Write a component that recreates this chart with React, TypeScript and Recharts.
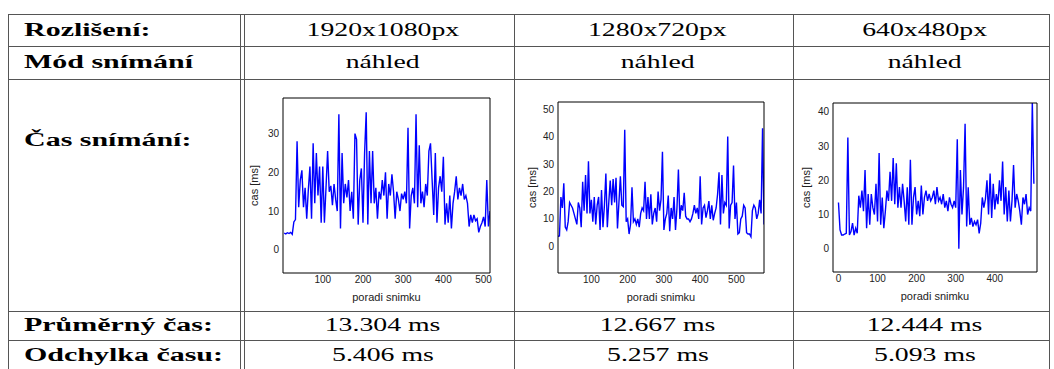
import { LineChart, Line, XAxis, YAxis } from 'recharts';

// sampled every STEP frames, values in ms
const STEP = 4;

const resolutions = ['1920x1080px', '1280x720px', '640x480px'];
const modes = ['náhled', 'náhled', 'náhled'];
const meanTimes = ['13.304 ms', '12.667 ms', '12.444 ms'];
const deviations = ['5.406 ms', '5.257 ms', '5.093 ms'];

const hdFrameStart = 4;
const hdTimes = [
  4.3, 4.1, 4.4, 4.2, 4.5, 4.0, 7.2, 7.8,
  28, 11, 18, 20.5, 11, 16, 8, 15.5,
  21.5, 8, 27.5, 12, 25, 14, 21.5, 7,
  21.5, 7, 16, 25.5, 15, 16.5, 11.5, 17,
  13, 10, 35, 5.5, 25, 12, 17, 13.5,
  18, 10, 15, 8, 30, 28.5, 6.5, 18,
  21, 7, 25, 35.5, 6.5, 25.5, 12, 25.5,
  12, 16, 8, 15, 13, 18, 14, 20,
  8, 17, 14, 19.5, 15, 8, 15, 13,
  10, 14.5, 13, 15, 12, 31.5, 5.5, 14,
  16, 12, 35, 11, 27, 12, 15, 11,
  17, 14, 25.5, 27.5, 18, 9, 25, 7,
  16, 19, 15, 24, 6.5, 12, 7, 14,
  5.5, 12, 15, 19, 13, 16, 14, 17,
  13, 14, 12, 6, 9, 7, 9, 7.5,
  8, 4.5, 6, 7, 8.5, 6, 18, 6,
  10,
];

const mdFrameStart = 8;
const mdTimes = [
  3.7, 3.8, 18, 14, 23, 7, 6, 9,
  16, 15, 14, 12, 10, 8, 16, 14,
  7, 23.5, 13, 26, 12, 31, 12, 17,
  9, 18, 8, 15, 18, 6, 20.5, 7,
  15, 26.5, 7, 16, 24, 15, 24.5, 16,
  25, 6.5, 16, 25.5, 15, 14.5, 42.5, 9,
  10, 4.5, 8, 21.5, 9, 10, 8, 10,
  7, 12, 14, 13, 23.5, 10, 18, 10,
  19, 8, 12, 14, 9, 20, 13, 17,
  34.5, 6, 10, 12, 18.5, 5.5, 14, 10,
  18, 6, 14, 28, 10, 15, 13, 19.5,
  11, 10, 10, 9, 10, 12, 15, 12,
  14, 10, 25.5, 8, 14, 15, 10.5, 13,
  16.5, 10, 15, 9.5, 12, 14, 19, 27,
  8, 26, 12, 16, 15, 40, 6.5, 15,
  16, 29.5, 10, 16, 4.5, 5, 10, 11,
  15, 14, 5, 4.5, 4.5, 3.5, 13, 15,
  14, 10, 12, 17, 12, 43, 8,
];

const sdFrameStart = 0;
const sdTimes = [
  13.5, 5.5, 4, 4, 4.3, 4.5, 32.5, 4,
  5, 7.5, 4, 6, 4.5, 15.5, 12, 17,
  11, 23, 6, 16, 7, 16, 12, 10,
  19, 8, 28, 7, 15, 6, 11, 17,
  14, 22.5, 14, 26.5, 13, 25, 12, 18,
  12, 19, 14, 8, 18, 7, 26, 7,
  15, 18, 10, 14, 9.5, 18.5, 10, 15,
  17, 14, 16, 14, 15, 17, 13, 18,
  14, 15, 13, 16, 12, 14, 11, 15,
  13, 12, 14, 12, 32, 0, 23, 10,
  18, 36.5, 6.5, 18, 7, 9, 6.5, 8,
  7, 8.5, 4.5, 7.5, 15, 12, 14.5, 20,
  10, 22, 9, 19, 11.5, 16, 13, 20,
  14, 25.5, 10, 18, 8, 17, 8, 14,
  24.5, 12, 16, 14, 11, 7, 15, 13,
  16, 10, 12, 11, 43, 19,
];

const hdXTicks = [100, 200, 300, 400, 500];
const hdYTicks = [0, 10, 20, 30];
const mdXTicks = [100, 200, 300, 400, 500];
const mdYTicks = [0, 10, 20, 30, 40, 50];
const sdXTicks = [0, 100, 200, 300, 400];
const sdYTicks = [0, 10, 20, 30, 40];

const LINE = '#555';
const SERIF = '"Liberation Serif", "Times New Roman", serif';

interface ChartProps {
  left: number;
  top: number;
  plotW: number;
  plotH: number;
  start: number;
  values: number[];
  xDomain: [number, number];
  yDomain: [number, number];
  xTicks: number[];
  yTicks: number[];
  labelOffset: number;
}

function FrameChart({ left, top, plotW, plotH, start, values, xDomain, yDomain, xTicks, yTicks, labelOffset }: ChartProps) {
  const data = values.map((v, i) => ({ frame: start + i * STEP, cas: v }));
  const yw = 36;
  const m = { top: 2, right: 3, left: 0, bottom: 0 };
  const tickStyle = { fontSize: 10, fill: '#222' };
  return (
    <div style={{ position: 'absolute', left: left - yw, top: top - m.top, fontFamily: '"Liberation Sans", Arial, sans-serif' }}>
      <LineChart width={yw + plotW + m.right} height={m.top + plotH + 30} data={data} margin={m}>
        <XAxis
          xAxisId="x"
          dataKey="frame"
          type="number"
          domain={xDomain}
          ticks={xTicks}
          allowDataOverflow
          height={30}
          tickSize={0}
          tickMargin={3}
          tickLine={false}
          axisLine={{ stroke: '#000' }}
          tick={tickStyle}
          label={{ value: 'poradi snimku', position: 'insideBottom', offset: 2, style: { fontSize: 11, fill: '#222' } }}
        />
        <XAxis xAxisId="xb" dataKey="frame" type="number" domain={xDomain} ticks={xTicks} allowDataOverflow mirror tick={false} tickSize={3} axisLine={false} tickLine={{ stroke: '#000' }} />
        <XAxis xAxisId="xt" dataKey="frame" type="number" orientation="top" domain={xDomain} ticks={xTicks} allowDataOverflow mirror tick={false} tickSize={3} axisLine={{ stroke: '#000' }} tickLine={{ stroke: '#000' }} />
        <YAxis
          yAxisId="y"
          type="number"
          domain={yDomain}
          ticks={yTicks}
          allowDataOverflow
          width={yw}
          tickSize={0}
          tickMargin={4}
          tickLine={false}
          axisLine={{ stroke: '#000' }}
          tick={tickStyle}
          label={{ value: 'cas [ms]', angle: -90, position: 'insideLeft', offset: labelOffset, style: { textAnchor: 'middle', fontSize: 11, fill: '#222' } }}
        />
        <YAxis yAxisId="yl" type="number" domain={yDomain} ticks={yTicks} allowDataOverflow mirror tick={false} tickSize={3} axisLine={false} tickLine={{ stroke: '#000' }} />
        <YAxis yAxisId="yr" type="number" orientation="right" domain={yDomain} ticks={yTicks} allowDataOverflow mirror width={1} tick={false} tickSize={3} axisLine={{ stroke: '#000' }} tickLine={{ stroke: '#000' }} />
        <Line xAxisId="x" yAxisId="y" type="linear" dataKey="cas" stroke="#0000ff" strokeWidth={1.4} dot={false} isAnimationActive={false} />
      </LineChart>
    </div>
  );
}

const hLines = [14, 46, 79, 311, 340];
const vLines = [8, 240, 244, 514, 793, 1049];
const cols = [
  [244, 514],
  [514, 793],
  [793, 1049],
];

function Cell({ x, y, w, h, bold, center, children }: { x: number; y: number; w: number; h: number; bold?: boolean; center?: boolean; children: string }) {
  return (
    <div
      style={{
        position: 'absolute',
        left: x,
        top: y,
        width: w,
        height: h,
        display: 'flex',
        alignItems: 'center',
        justifyContent: center ? 'center' : 'flex-start',
        fontFamily: SERIF,
        fontWeight: bold ? 'bold' : 'normal',
        fontSize: 18.5,
        color: '#000',
        whiteSpace: 'nowrap',
      }}
    >
      <span
        style={{
          display: 'inline-block',
          transform: bold ? 'scaleX(1.62)' : 'scaleX(1.5)',
          transformOrigin: center ? 'center center' : 'left center',
        }}
      >
        {children}
      </span>
    </div>
  );
}

export default function App() {
  const rows: { y: number; h: number; label: string; vals: string[] }[] = [
    { y: 14, h: 32, label: 'Rozlišení:', vals: resolutions },
    { y: 46, h: 33, label: 'Mód snímání', vals: modes },
    { y: 311, h: 29, label: 'Průměrný čas:', vals: meanTimes },
    { y: 340, h: 30, label: 'Odchylka času:', vals: deviations },
  ];
  return (
    <div style={{ position: 'absolute', left: 0, top: 0, width: 1054, height: 369, overflow: 'hidden', background: '#fff' }}>
      {hLines.map((y) => (
        <div key={'h' + y} style={{ position: 'absolute', left: 8, top: y, width: 1042, height: 1, background: LINE }} />
      ))}
      {vLines.map((x) => (
        <div key={'v' + x} style={{ position: 'absolute', left: x, top: 14, width: 1, height: 360, background: LINE }} />
      ))}
      {rows.map((r) => (
        <div key={r.label}>
          <Cell x={24} y={r.y} w={210} h={r.h} bold>
            {r.label}
          </Cell>
          {r.vals.map((v, i) => (
            <Cell key={i} x={cols[i][0] + 4} y={r.y} w={cols[i][1] - cols[i][0]} h={r.h} center>
              {v}
            </Cell>
          ))}
        </div>
      ))}
      <Cell x={24} y={125} w={210} h={30} bold>
        Čas snímání:
      </Cell>
      <FrameChart left={283} top={98} plotW={207} plotH={175} start={hdFrameStart} values={hdTimes} xDomain={[1, 516]} yDomain={[-6, 39.2]} xTicks={hdXTicks} yTicks={hdYTicks} labelOffset={7} />
      <FrameChart left={558} top={102} plotW={206} plotH={171} start={mdFrameStart} values={mdTimes} xDomain={[8, 576]} yDomain={[-9.7, 52.6]} xTicks={mdXTicks} yTicks={mdYTicks} labelOffset={10} />
      <FrameChart left={833} top={103} plotW={204} plotH={169} start={sdFrameStart} values={sdTimes} xDomain={[-14, 508]} yDomain={[-6.8, 42.6]} xTicks={sdXTicks} yTicks={sdYTicks} labelOffset={9} />
    </div>
  );
}
